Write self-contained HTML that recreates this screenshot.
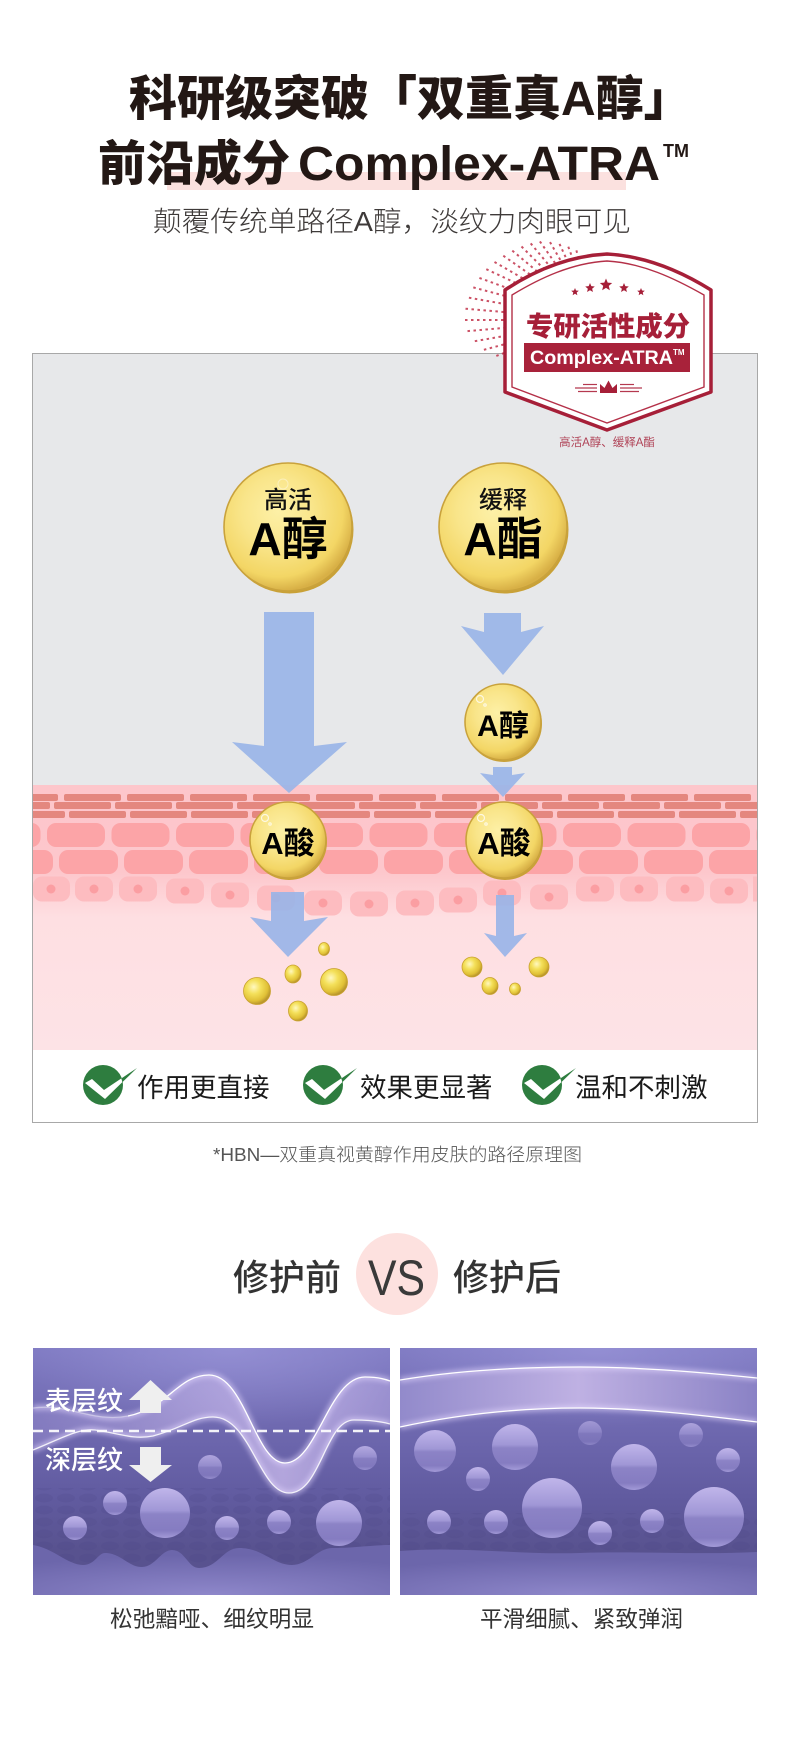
<!DOCTYPE html>
<html><head><meta charset="utf-8">
<style>
html,body{margin:0;padding:0;background:#fff;}
body{width:790px;height:1746px;overflow:hidden;}
svg{display:block;}
text{font-family:"Liberation Sans","Noto Sans CJK SC",sans-serif;}
</style></head><body>
<svg width="790" height="1746" viewBox="0 0 790 1746" xmlns="http://www.w3.org/2000/svg">
<defs>
  <radialGradient id="gball" cx="0.42" cy="0.38" r="0.62">
    <stop offset="0" stop-color="#fdf0a6"/>
    <stop offset="0.45" stop-color="#f9e58a"/>
    <stop offset="0.82" stop-color="#f3d665"/>
    <stop offset="1" stop-color="#d8b046"/>
  </radialGradient>
  <radialGradient id="gdrop" cx="0.38" cy="0.35" r="0.65">
    <stop offset="0" stop-color="#fff8c0"/>
    <stop offset="0.4" stop-color="#f4e05a"/>
    <stop offset="0.8" stop-color="#e0c036"/>
    <stop offset="1" stop-color="#b8952c"/>
  </radialGradient>
  <linearGradient id="skinbg" gradientUnits="userSpaceOnUse" x1="0" y1="785" x2="0" y2="1050">
    <stop offset="0" stop-color="#fdc6cb"/>
    <stop offset="0.33" stop-color="#fdc7cc"/>
    <stop offset="0.5" stop-color="#fedfe2"/>
    <stop offset="1" stop-color="#fde3e6"/>
  </linearGradient>
  <pattern id="b1" x="1" y="0" width="63" height="1746" patternUnits="userSpaceOnUse"><rect x="0" y="794" width="57" height="7" rx="2" fill="#e4877f"/></pattern>
  <pattern id="b2" x="54" y="0" width="61" height="1746" patternUnits="userSpaceOnUse"><rect x="0" y="802" width="57" height="7" rx="2" fill="#e4877f"/></pattern>
  <pattern id="b3" x="8" y="0" width="61" height="1746" patternUnits="userSpaceOnUse"><rect x="0" y="811" width="57" height="7" rx="2" fill="#e4877f"/></pattern>
  <pattern id="c1" x="-17.5" y="0" width="64.5" height="1746" patternUnits="userSpaceOnUse"><rect x="0" y="823" width="58" height="24" rx="9" fill="#fca4a7"/></pattern>
  <pattern id="c2" x="-6" y="0" width="65" height="1746" patternUnits="userSpaceOnUse"><rect x="0" y="850" width="59" height="24" rx="9" fill="#fca4a7"/></pattern>

  <linearGradient id="pbg" x1="0" y1="0" x2="0" y2="1">
    <stop offset="0" stop-color="#807bc3"/>
    <stop offset="0.35" stop-color="#6d67ae"/>
    <stop offset="0.6" stop-color="#615ba0"/>
    <stop offset="0.82" stop-color="#58528f"/>
    <stop offset="1" stop-color="#58528f"/>
  </linearGradient>
  <radialGradient id="ptop" cx="0.55" cy="0" r="0.6">
    <stop offset="0" stop-color="#9c97da" stop-opacity="0.7"/>
    <stop offset="1" stop-color="#9c97da" stop-opacity="0"/>
  </radialGradient>
  <radialGradient id="pbot" cx="0.5" cy="1" r="0.8">
    <stop offset="0" stop-color="#8e87ca"/>
    <stop offset="1" stop-color="#6c66ab"/>
  </radialGradient>
  <linearGradient id="bub" x1="0" y1="0" x2="0" y2="1">
    <stop offset="0" stop-color="#c0b5ea"/>
    <stop offset="0.45" stop-color="#a097d6"/>
    <stop offset="0.52" stop-color="#8c83c6"/>
    <stop offset="0.85" stop-color="#857cc1"/>
    <stop offset="1" stop-color="#a39ad8"/>
  </linearGradient>
  <linearGradient id="bandL" x1="0" y1="0" x2="1" y2="0">
    <stop offset="0" stop-color="#9a8fd0" stop-opacity="0.45"/>
    <stop offset="0.4" stop-color="#b3a6de" stop-opacity="0.7"/>
    <stop offset="0.7" stop-color="#c6b7ea" stop-opacity="0.8"/>
    <stop offset="1" stop-color="#a99dd9" stop-opacity="0.7"/>
  </linearGradient>
  <linearGradient id="bandR" x1="0" y1="0" x2="1" y2="0">
    <stop offset="0" stop-color="#928acb"/>
    <stop offset="0.5" stop-color="#bfb1e3"/>
    <stop offset="1" stop-color="#8a82c5"/>
  </linearGradient>
  <pattern id="hex" width="22" height="12" patternUnits="userSpaceOnUse"><ellipse cx="11" cy="6" rx="9" ry="4.5" fill="#4a4484"/></pattern>
  <filter id="glow" x="-10%" y="-50%" width="120%" height="200%"><feGaussianBlur stdDeviation="2.5"/></filter>
  <clipPath id="pclip"><rect x="0" y="0" width="357" height="247"/></clipPath>
  <clipPath id="ckc"><circle cx="0" cy="0" r="19.5"/></clipPath>
  <path id="star" d="M0,-1 L0.2645,-0.364 L0.951,-0.309 L0.428,0.139 L0.588,0.809 L0,0.45 L-0.588,0.809 L-0.428,0.139 L-0.951,-0.309 L-0.2645,-0.364 Z"/>
</defs>

<rect width="790" height="1746" fill="#fff"/>

<!-- Title -->
<rect x="167" y="172" width="459" height="18" fill="#fbe1df"/>
<text x="129" y="115" font-size="48" font-weight="900" fill="#231815">科研级突破「双重真A醇」</text>
<text x="98" y="180" font-size="48" font-weight="900" fill="#231815">前沿成分</text>
<text x="298" y="180" font-size="48" font-weight="bold" fill="#231815" textLength="362" lengthAdjust="spacingAndGlyphs">Complex-ATRA</text>
<text x="663" y="157" font-size="18" font-weight="bold" fill="#231815">TM</text>
<text x="153" y="231" font-size="28" font-weight="300" fill="#3e3a39" textLength="478" lengthAdjust="spacingAndGlyphs">颠覆传统单路径A醇，淡纹力肉眼可见</text>

<!-- Box -->
<rect x="33" y="354" width="724" height="431" fill="#e7e8ea"/>
<rect x="33" y="785" width="724" height="265" fill="url(#skinbg)"/>
<rect x="33" y="794" width="724" height="7" fill="url(#b1)"/>
<rect x="33" y="802" width="724" height="7" fill="url(#b2)"/>
<rect x="33" y="811" width="724" height="7" fill="url(#b3)"/>
<rect x="33" y="823" width="724" height="24" fill="url(#c1)"/>
<rect x="33" y="850" width="724" height="24" fill="url(#c2)"/>
<g fill="#fdbcc0">
  <rect x="33" y="876.5" width="37" height="25" rx="9"/>
  <rect x="75" y="876.5" width="38" height="25" rx="9"/>
  <rect x="119" y="876.5" width="38" height="25" rx="9"/>
  <rect x="166" y="878.5" width="38" height="25" rx="9"/>
  <rect x="211" y="882.5" width="38" height="25" rx="9"/>
  <rect x="257" y="885.5" width="38" height="25" rx="9"/>
  <rect x="304" y="890.5" width="38" height="25" rx="9"/>
  <rect x="350" y="891.5" width="38" height="25" rx="9"/>
  <rect x="396" y="890.5" width="38" height="25" rx="9"/>
  <rect x="439" y="887.5" width="38" height="25" rx="9"/>
  <rect x="483" y="880.5" width="38" height="25" rx="9"/>
  <rect x="530" y="884.5" width="38" height="25" rx="9"/>
  <rect x="576" y="876.5" width="38" height="25" rx="9"/>
  <rect x="620" y="876.5" width="38" height="25" rx="9"/>
  <rect x="666" y="876.5" width="38" height="25" rx="9"/>
  <rect x="710" y="878.5" width="38" height="25" rx="9"/>
  <rect x="753" y="876.5" width="4" height="25"/>
</g>
<g fill="#fb9ea2">
  <circle cx="51" cy="889" r="4.5"/><circle cx="94" cy="889" r="4.5"/><circle cx="138" cy="889" r="4.5"/>
  <circle cx="185" cy="891" r="4.5"/><circle cx="230" cy="895" r="4.5"/><circle cx="276" cy="898" r="4.5"/>
  <circle cx="323" cy="903" r="4.5"/><circle cx="369" cy="904" r="4.5"/><circle cx="415" cy="903" r="4.5"/>
  <circle cx="458" cy="900" r="4.5"/><circle cx="502" cy="893" r="4.5"/><circle cx="549" cy="897" r="4.5"/>
  <circle cx="595" cy="889" r="4.5"/><circle cx="639" cy="889" r="4.5"/><circle cx="685" cy="889" r="4.5"/>
  <circle cx="729" cy="891" r="4.5"/>
</g>
<rect x="33" y="1050" width="724" height="72" fill="#fff"/>
<rect x="32.5" y="353.5" width="725" height="769" fill="none" stroke="#a8a8a8" stroke-width="1"/>

<!-- Arrows -->
<g fill="#98b4e8" fill-opacity="0.9">
  <polygon points="264,612 314,612 314,746 347,742 289,793 232,742 264,746"/>
  <polygon points="484,613 521,613 521,632 544,626 503,675 461,626 484,632"/>
  <polygon points="493,767 512,767 512,775 525,773 503,797 480,773 493,775"/>
  <polygon points="271,892 304,892 304,921 328,917 288,957 250,917 271,921"/>
  <polygon points="496,895 514,895 514,936 527,933 505,957 484,933 496,936"/>
</g>

<!-- Balls -->
<g stroke="#c9a23c" stroke-width="1.6">
  <circle cx="289.5" cy="529.5" r="64" fill="#c9a137" stroke="none"/>
  <circle cx="288" cy="527" r="64" fill="url(#gball)"/>
  <circle cx="504.5" cy="529.5" r="64" fill="#c9a137" stroke="none"/>
  <circle cx="503" cy="527" r="64" fill="url(#gball)"/>
  <circle cx="504" cy="724" r="38" fill="#c9a137" stroke="none"/>
  <circle cx="503" cy="722" r="38" fill="url(#gball)"/>
  <circle cx="289" cy="842" r="38" fill="#c9a137" stroke="none"/>
  <circle cx="288" cy="840" r="38" fill="url(#gball)"/>
  <circle cx="505" cy="842" r="38" fill="#c9a137" stroke="none"/>
  <circle cx="504" cy="840" r="38" fill="url(#gball)"/>
</g>
<g fill="none" stroke="#ffffff" stroke-width="1.2" opacity="0.75">
  <circle cx="480" cy="699" r="3.5"/><circle cx="485" cy="705" r="1.2"/>
  <circle cx="265" cy="818" r="3.5"/><circle cx="270" cy="824" r="1.2"/>
  <circle cx="481" cy="818" r="3.5"/><circle cx="486" cy="824" r="1.2"/>
</g>
<circle cx="283" cy="484" r="5" fill="none" stroke="#fff" stroke-width="1" opacity="0.4"/>
<text x="288" y="508" font-size="24" font-weight="500" fill="#111" text-anchor="middle">高活</text>
<text x="288" y="555" font-size="46" font-weight="bold" fill="#000" text-anchor="middle">A醇</text>
<text x="503" y="508" font-size="24" font-weight="500" fill="#111" text-anchor="middle">缓释</text>
<text x="503" y="555" font-size="46" font-weight="bold" fill="#000" text-anchor="middle">A酯</text>
<text x="503" y="736" font-size="30" font-weight="bold" fill="#000" text-anchor="middle">A醇</text>
<text x="288" y="854" font-size="31" font-weight="bold" fill="#000" text-anchor="middle">A酸</text>
<text x="504" y="854" font-size="31" font-weight="bold" fill="#000" text-anchor="middle">A酸</text>

<!-- Droplets -->
<g fill="url(#gdrop)" stroke="#c9a22e" stroke-width="0.8">
  <ellipse cx="324" cy="949" rx="5.5" ry="6.5"/>
  <ellipse cx="293" cy="974" rx="8" ry="9"/>
  <ellipse cx="334" cy="982" rx="13.5" ry="13.5"/>
  <ellipse cx="257" cy="991" rx="13.5" ry="13.5"/>
  <ellipse cx="298" cy="1011" rx="9.5" ry="10"/>
  <ellipse cx="472" cy="967" rx="10" ry="10"/>
  <ellipse cx="539" cy="967" rx="10" ry="10"/>
  <ellipse cx="490" cy="986" rx="8" ry="8.5"/>
  <ellipse cx="515" cy="989" rx="5.5" ry="6"/>
</g>

<!-- Checks -->
<g transform="translate(103,1085)">
  <circle r="20" fill="#2e7d3f"/>
  <polygon points="-18,-2 -11,-6 1,5 34,-17 2,14" fill="#2e7d3f"/>
  <polygon points="-18,-2 -11,-6 1,5 34,-17 2,14" fill="#fff" clip-path="url(#ckc)"/>
</g>
<g transform="translate(323,1085)">
  <circle r="20" fill="#2e7d3f"/>
  <polygon points="-18,-2 -11,-6 1,5 34,-17 2,14" fill="#2e7d3f"/>
  <polygon points="-18,-2 -11,-6 1,5 34,-17 2,14" fill="#fff" clip-path="url(#ckc)"/>
</g>
<g transform="translate(542,1085)">
  <circle r="20" fill="#2e7d3f"/>
  <polygon points="-18,-2 -11,-6 1,5 34,-17 2,14" fill="#2e7d3f"/>
  <polygon points="-18,-2 -11,-6 1,5 34,-17 2,14" fill="#fff" clip-path="url(#ckc)"/>
</g>
<text x="137" y="1097" font-size="26.5" fill="#1a1a1a">作用更直接</text>
<text x="360" y="1097" font-size="26.5" fill="#1a1a1a">效果更显著</text>
<text x="575" y="1097" font-size="26.5" fill="#1a1a1a">温和不刺激</text>

<!-- Starburst -->
<g stroke="#c3354c" stroke-width="2" stroke-dasharray="2.5 3.5" opacity="0.85">
  <line x1="508.9" y1="360.2" x2="545.2" y2="343.3"/>
  <line x1="496.3" y1="355.9" x2="543.3" y2="338.8"/>
  <line x1="483.9" y1="349.8" x2="541.9" y2="334.2"/>
  <line x1="474.8" y1="341.2" x2="540.8" y2="329.6"/>
  <line x1="467.5" y1="331.1" x2="540.2" y2="324.8"/>
  <line x1="465" y1="320" x2="540" y2="320"/>
  <line x1="465.5" y1="308.7" x2="540.2" y2="315.2"/>
  <line x1="468.9" y1="297.7" x2="540.8" y2="310.4"/>
  <line x1="473.3" y1="287.4" x2="541.9" y2="305.8"/>
  <line x1="479.4" y1="277.9" x2="543.3" y2="301.2"/>
  <line x1="486.3" y1="269.2" x2="545.2" y2="296.7"/>
  <line x1="494.5" y1="262" x2="547.4" y2="292.5"/>
  <line x1="503.3" y1="255.7" x2="550" y2="288.4"/>
  <line x1="512.3" y1="250.6" x2="552.9" y2="284.6"/>
  <line x1="521.5" y1="246.5" x2="556.1" y2="281.1"/>
  <line x1="530.7" y1="243.4" x2="559.6" y2="277.9"/>
  <line x1="539.9" y1="241.4" x2="563.4" y2="275"/>
  <line x1="550" y1="242.1" x2="567.5" y2="272.4"/>
  <line x1="559.5" y1="243.9" x2="571.7" y2="270.2"/>
  <line x1="568.3" y1="246.7" x2="576.2" y2="268.3"/>
  <line x1="576.4" y1="250.4" x2="580.8" y2="266.9"/>
</g>

<!-- Badge shield -->
<path d="M505,290 C535,270 570,256 607,254 C644,256 679,270 711,290 L711,392 L607,430 L505,392 Z" fill="#fff" stroke="#a61f38" stroke-width="3.5" stroke-linejoin="round"/>
<path d="M512,295 C540,278 572,263 607,261 C642,263 674,278 704,295 L704,387 L607,423 L512,387 Z" fill="none" stroke="#b43048" stroke-width="1.4"/>
<g fill="#a61f38">
  <use href="#star" transform="translate(575,292) scale(4)"/>
  <use href="#star" transform="translate(590,288) scale(5)"/>
  <use href="#star" transform="translate(606,285) scale(6.5)"/>
  <use href="#star" transform="translate(624,288) scale(5)"/>
  <use href="#star" transform="translate(641,292) scale(4)"/>
</g>
<text x="526" y="336" font-size="27" font-weight="900" fill="#a61f38" textLength="164" lengthAdjust="spacingAndGlyphs">专研活性成分</text>
<rect x="524" y="343" width="166" height="29" fill="#a8223a"/>
<text x="530" y="364" font-size="19.5" font-weight="bold" fill="#fff" textLength="143" lengthAdjust="spacingAndGlyphs">Complex-ATRA</text>
<text x="673" y="355" font-size="8" font-weight="bold" fill="#fff">TM</text>
<g stroke="#b5394f" stroke-width="1.2">
  <line x1="583" y1="384.5" x2="597" y2="384.5"/>
  <line x1="575" y1="388" x2="597" y2="388"/>
  <line x1="578" y1="391.5" x2="597" y2="391.5"/>
  <line x1="620" y1="384.5" x2="634" y2="384.5"/>
  <line x1="620" y1="388" x2="642" y2="388"/>
  <line x1="620" y1="391.5" x2="639" y2="391.5"/>
</g>
<path d="M600,393 L600,384 L604.5,388 L608.5,380.5 L612.5,388 L617,384 L617,393 Z" fill="#a61f38"/>
<text x="607" y="446" font-size="11.5" fill="#b04458" text-anchor="middle">高活A醇、缓释A酯</text>

<!-- Caption -->
<text x="213" y="1161" font-size="18" font-weight="300" fill="#555" textLength="369" lengthAdjust="spacingAndGlyphs">*HBN—双重真视黄醇作用皮肤的路径原理图</text>

<!-- VS heading -->
<circle cx="397" cy="1274" r="41" fill="#fde1df"/>
<text x="233" y="1290" font-size="36" font-weight="500" fill="#333">修护前</text>
<text x="368" y="1295" font-size="50" fill="#3a3a3a" textLength="57" lengthAdjust="spacingAndGlyphs">VS</text>
<text x="453" y="1290" font-size="36" font-weight="500" fill="#333">修护后</text>

<!-- Left panel -->
<g transform="translate(33,1348)" clip-path="url(#pclip)">
  <rect width="357" height="247" fill="url(#pbg)"/>
  <rect width="357" height="130" fill="url(#ptop)"/>
  <rect y="140" width="357" height="75" fill="url(#hex)" opacity="0.18"/>
  <path d="M0,197 C20,200 35,217 50,217 C62,217 65,205 72,205 C88,205 95,219 109,219 C122,219 128,202 139,202 C152,202 155,220 166,220 C185,220 190,200 206,200 C230,200 240,217 259,217 C275,217 285,200 299,200 C320,200 340,197 357,197 L357,247 L0,247 Z" fill="url(#pbot)"/>
  <g fill="url(#bub)">
    <circle cx="177" cy="119" r="12" opacity="0.8"/>
    <circle cx="332" cy="110" r="12" opacity="0.85"/>
    <circle cx="82" cy="155" r="12"/>
    <circle cx="132" cy="165" r="25"/>
    <circle cx="42" cy="180" r="12"/>
    <circle cx="194" cy="180" r="12"/>
    <circle cx="246" cy="174" r="12"/>
    <circle cx="306" cy="175" r="23"/>
  </g>
  <path d="M0,60 C35,55 60,75 95,68 C135,60 145,27 176,27 C212,27 222,115 252,115 C284,115 296,29 332,29 C344,29 352,31 357,33 L357,76 C350,74 338,72 321,72 C292,72 288,145 256,145 C226,145 218,69 180,69 C160,69 150,80 120,88 C100,92 85,85 62,82 C45,80 25,92 0,102 Z" fill="url(#bandL)"/>
  <g fill="none" stroke="#e4d8ff" stroke-width="6" opacity="0.5" filter="url(#glow)">
    <path d="M0,60 C35,55 60,75 95,68 C135,60 145,27 176,27 C212,27 222,115 252,115 C284,115 296,29 332,29 C344,29 352,31 357,33"/>
    <path d="M0,102 C25,92 45,80 62,82 C85,85 100,92 120,88 C150,80 160,69 180,69 C218,69 226,145 256,145 C288,145 292,72 321,72 C338,72 350,74 357,76"/>
  </g>
  <g fill="none" stroke="#fff" stroke-width="1.3">
    <path d="M95,68 C135,60 145,27 176,27 C212,27 222,115 252,115 C284,115 296,29 332,29 C344,29 352,31 357,33"/>
    <path d="M0,102 C25,92 45,80 62,82 C85,85 100,92 120,88 C150,80 160,69 180,69 C218,69 226,145 256,145 C288,145 292,72 321,72 C338,72 350,74 357,76" opacity="0.85"/>
    <path d="M0,60 C35,55 60,75 95,68" opacity="0.4"/>
  </g>
  <line x1="0" y1="83" x2="357" y2="83" stroke="#fff" stroke-width="2.5" stroke-dasharray="10 6" opacity="0.92"/>
  <text x="12" y="62" font-size="26" font-weight="500" fill="#fff">表层纹</text>
  <text x="12" y="121" font-size="26" font-weight="500" fill="#fff">深层纹</text>
  <polygon points="96,52 117.5,32 139,52 128,52 128,65 107,65 107,52" fill="#efefef"/>
  <polygon points="107,99 128,99 128,117 139,117 117.5,134 96,117 107,117" fill="#efefef"/>
</g>

<!-- Right panel -->
<g transform="translate(400,1348)" clip-path="url(#pclip)">
  <rect width="357" height="247" fill="url(#pbg)"/>
  <rect width="357" height="130" fill="url(#ptop)"/>
  <rect y="165" width="357" height="45" fill="url(#hex)" opacity="0.18"/>
  <path d="M0,203 C60,198 120,207 180,205 C240,203 300,207 357,204 L357,247 L0,247 Z" fill="url(#pbot)"/>
  <g fill="url(#bub)">
    <circle cx="35" cy="103" r="21"/>
    <circle cx="115" cy="99" r="23"/>
    <circle cx="190" cy="85" r="12" opacity="0.6"/>
    <circle cx="291" cy="87" r="12" opacity="0.75"/>
    <circle cx="328" cy="112" r="12"/>
    <circle cx="78" cy="131" r="12"/>
    <circle cx="234" cy="119" r="23"/>
    <circle cx="152" cy="160" r="30"/>
    <circle cx="39" cy="174" r="12"/>
    <circle cx="96" cy="174" r="12"/>
    <circle cx="200" cy="185" r="12"/>
    <circle cx="252" cy="173" r="12"/>
    <circle cx="314" cy="169" r="30"/>
  </g>
  <path d="M0,32 C60,22 120,19 180,19 C240,19 300,24 357,30 L357,74 C300,67 240,60 180,60 C120,60 60,66 0,79 Z" fill="url(#bandR)"/>
  <g fill="none" stroke="#e4d8ff" stroke-width="6" opacity="0.5" filter="url(#glow)">
    <path d="M0,32 C60,22 120,19 180,19 C240,19 300,24 357,30"/>
    <path d="M0,79 C60,66 120,60 180,60 C240,60 300,67 357,74"/>
  </g>
  <g fill="none" stroke="#fff" stroke-width="1.3">
    <path d="M0,32 C60,22 120,19 180,19 C240,19 300,24 357,30"/>
    <path d="M0,79 C60,66 120,60 180,60 C240,60 300,67 357,74"/>
  </g>
</g>

<text x="110" y="1627" font-size="22.5" fill="#333" textLength="204" lengthAdjust="spacingAndGlyphs">松弛黯哑、细纹明显</text>
<text x="480" y="1627" font-size="22.5" fill="#333" textLength="203" lengthAdjust="spacingAndGlyphs">平滑细腻、紧致弹润</text>
</svg>
</body></html>
